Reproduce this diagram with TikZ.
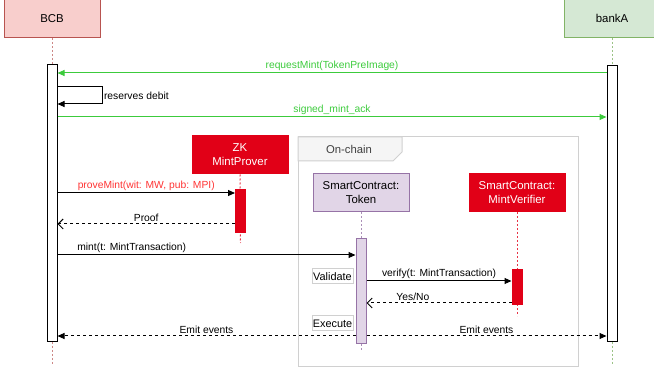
\documentclass[tikz,border=0pt]{standalone}
\usepackage{fontspec}
\setmainfont{Liberation Sans}
\usetikzlibrary{arrows.meta}

\definecolor{bcbfill}{HTML}{F8CECC}
\definecolor{bcbline}{HTML}{B85450}
\definecolor{bankfill}{HTML}{D5E8D4}
\definecolor{bankline}{HTML}{82B366}
\definecolor{zkred}{HTML}{E10017}
\definecolor{txtred}{HTML}{FF3333}
\definecolor{tokfill}{HTML}{E1D5E7}
\definecolor{tokline}{HTML}{9673A6}
\definecolor{msggreen}{HTML}{3CCB3C}
\definecolor{framegray}{HTML}{D0D0D0}

\tikzset{
  actor/.style={draw, line width=1pt, minimum width=96pt, minimum height=38pt,
    align=center, font=\fontsize{11.4}{14}\selectfont},
  bar/.style={draw, line width=1pt, minimum width=10pt, inner sep=0pt},
  life/.style={line width=1pt, dash pattern=on 2pt off 2pt},
  msg/.style={line width=1pt, -{Triangle[length=7pt,width=6pt]}},
  reply/.style={line width=1pt, dash pattern=on 3pt off 3pt, -{Straight Barb[length=5pt,width=10pt]}},
  event/.style={line width=1pt, dash pattern=on 3pt off 3pt, -{Triangle[length=7pt,width=6pt]}},
  lbl/.style={font=\fontsize{10.3}{12}\selectfont, inner sep=1.5pt},
  step box/.style={draw=framegray, fill=white, line width=1pt, minimum width=41pt,
    minimum height=15pt, inner sep=0pt, font=\fontsize{10.9}{12}\selectfont}
}

\begin{document}
\begin{tikzpicture}[x=1pt, y=-1pt]
  \useasboundingbox (0,0) rectangle (654,374);

  % on-chain frame
  \draw [framegray, line width=1pt] (298,137) rectangle (578,367);
  \draw [framegray, line width=1pt, fill=black!4] (298,137) -- (402,137) -- (402,152) -- (393,161) -- (298,161) -- cycle;
  \node [lbl, text=black!75, font=\fontsize{11.3}{13}\selectfont] (chain) at (349,149) {On-chain};

  % participants
  \node [actor, fill=bcbfill, draw=bcbline] (bcb) at (52,18.5) {BCB};
  \node [actor, fill=bankfill, draw=bankline] (bank) at (612,18.5) {bankA};
  \node [actor, fill=zkred, draw=zkred, text=white] (zk) at (240,155) {ZK\\MintProver};
  \node [actor, fill=tokfill, draw=tokline] (tok) at (361,192.5) {SmartContract:\\Token};
  \node [actor, fill=zkred, draw=zkred, text=white] (ver) at (517,192.5) {SmartContract:\\MintVerifier};

  % lifelines
  \draw [life, bcbline!70] (bcb.south) -- (52,365);
  \draw [life, bankline!80] (bank.south) -- (612,365);
  \draw [life, zkred!80] (zk.south) -- (240.5,243);
  \draw [life, tokline!80] (tok.south) -- (361,350);
  \draw [life, zkred!80] (ver.south) -- (517,316);

  % activation bars
  \node [bar, fill=white, minimum height=277pt] (bcbbar) at (52,203.5) {};
  \node [bar, fill=white, minimum height=276pt] (bankbar) at (612,204) {};
  \node [bar, fill=zkred, draw=zkred, minimum height=43pt] (zkbar) at (240.5,211.5) {};
  \node [bar, fill=tokfill, draw=tokline, minimum height=105pt] (tokbar) at (361,291.5) {};
  \node [bar, fill=zkred, draw=zkred, minimum height=35pt] (verbar) at (517,287.5) {};

  \node [step box] (validate) at (332.5,276.5) {Validate};
  \node [step box] (execute) at (332.5,323.5) {Execute};

  % message levels
  \coordinate (y1) at (0,73);
  \coordinate (y2) at (0,87);
  \coordinate (y3) at (0,104);
  \coordinate (y4) at (0,117);
  \coordinate (y5) at (0,193);
  \coordinate (y6) at (0,224);
  \coordinate (y7) at (0,255);
  \coordinate (y8) at (0,281);
  \coordinate (y9) at (0,303);
  \coordinate (y10) at (0,336);
  \coordinate (loop) at (102,0);

  \draw [msg, msggreen] (bankbar.west |- y1) -- node [lbl, above] {requestMint(TokenPreImage)} (bcbbar.east |- y1);
  \draw [msg] (bcbbar.east |- y2) -- (loop |- y2) -- node [lbl, right] {reserves debit} (loop |- y3) -- (bcbbar.east |- y3);
  \draw [msg, msggreen] (bcbbar.east |- y4) -- node [lbl, above] {signed\_mint\_ack} (bankbar.west |- y4);
  \draw [msg] (bcbbar.east |- y5) -- node [lbl, above, text=txtred] {proveMint(wit: MW, pub: MPI)} (zkbar.west |- y5);
  \draw [reply] (zkbar.west |- y6) -- node [lbl, above] {Proof} (bcbbar.east |- y6);
  \draw [msg] (bcbbar.east |- y7) -- node [lbl, pos=0.06, anchor=south west] {mint(t: MintTransaction)} (tokbar.west |- y7);
  \draw [msg] (tokbar.east |- y8) -- node [lbl, above] {verify(t: MintTransaction)} (verbar.west |- y8);
  \draw [reply] (verbar.west |- y9) -- node [lbl, above, pos=0.68] {Yes/No} (tokbar.east |- y9);
  \draw [event] (tokbar.west |- y10) -- node [lbl, above] {Emit events} (bcbbar.east |- y10);
  \draw [event] (tokbar.east |- y10) -- node [lbl, above] {Emit events} (bankbar.west |- y10);
\end{tikzpicture}
\end{document}
